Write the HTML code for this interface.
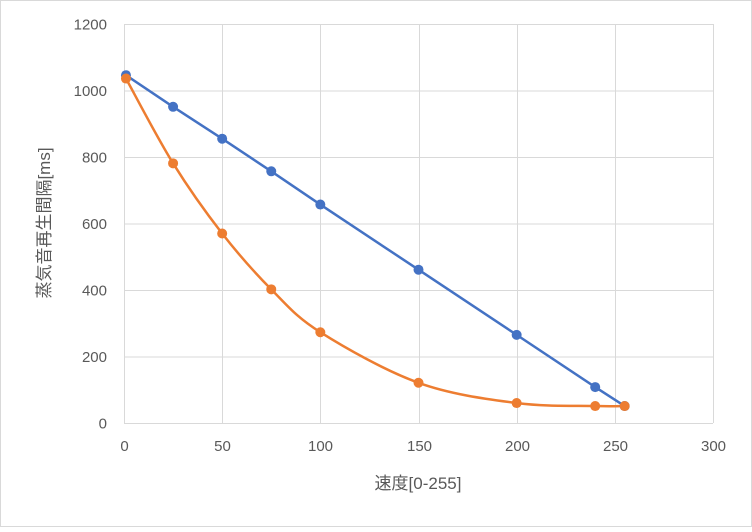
<!DOCTYPE html>
<html><head><meta charset="utf-8"><style>
body{margin:0;background:#fff}
svg text{font-family:"Liberation Sans","Noto Sans CJK JP",sans-serif;fill:#595959}
</style></head><body>
<svg id="s" width="752" height="527" xmlns="http://www.w3.org/2000/svg">
<rect x="0.5" y="0.5" width="751" height="526" fill="#fff" stroke="#d9d9d9"/>
<g id="grid" stroke="#d9d9d9" stroke-width="1"></g>
<g id="lbl" font-size="15"></g>
<text x="418" y="489" font-size="17" text-anchor="middle">速度[0-255]</text>
<text transform="translate(50,223) rotate(-90)" font-size="17" text-anchor="middle">蒸気音再生間隔[ms]</text>
<path id="bl" fill="none" stroke="#4472c4" stroke-width="2.5"/>
<path id="or" fill="none" stroke="#ed7d31" stroke-width="2.5"/>
<g id="pts"></g>
</svg>
<script>
var X=function(v){return 124+v*589/300},Y=function(v){return 423-v*399/1200};
var g=document.getElementById('grid'),l=document.getElementById('lbl'),ns='http://www.w3.org/2000/svg';
function el(p,t,a,txt){var e=document.createElementNS(ns,t);for(var k in a)e.setAttribute(k,a[k]);if(txt!=null)e.textContent=txt;p.appendChild(e);}
for(var i=0;i<=6;i++){var y=Y(i*200)+0.5;el(g,'line',{x1:124,x2:713,y1:y,y2:y});el(l,'text',{x:107,y:y+5,'text-anchor':'end'},i*200);}
for(var i=0;i<=6;i++){var x=Math.round(X(i*50))+0.5;el(g,'line',{x1:x,x2:x,y1:24,y2:423});el(l,'text',{x:x,y:451,'text-anchor':'middle'},i*50);}
var xs=[1,25,50,75,100,150,200,240,255];
var b=[1046,951,855,757,657,461,265,108,51],o=[1036,781,570,402,273,121,60,51,51];
var bp=xs.map(function(x,i){return[X(x),Y(b[i])]}),op=xs.map(function(x,i){return[X(x),Y(o[i])]});
document.getElementById('bl').setAttribute('d','M'+bp.map(function(p){return p.join(',')}).join(' L'));
var d='M'+op[0].join(',');
for(var i=0;i<op.length-1;i++){var p0=op[Math.max(i-1,0)],p1=op[i],p2=op[i+1],p3=op[Math.min(i+2,op.length-1)];
var c1=[p1[0]+(p2[0]-p0[0])/6,p1[1]+(p2[1]-p0[1])/6],c2=[p2[0]-(p3[0]-p1[0])/6,p2[1]-(p3[1]-p1[1])/6];
d+=' C'+c1.join(',')+' '+c2.join(',')+' '+p2.join(',');}
document.getElementById('or').setAttribute('d',d);
var pts=document.getElementById('pts');
bp.forEach(function(p){el(pts,'circle',{cx:p[0],cy:p[1],r:5,fill:'#4472c4'})});
op.forEach(function(p){el(pts,'circle',{cx:p[0],cy:p[1],r:5,fill:'#ed7d31'})});
</script>
</body></html>
